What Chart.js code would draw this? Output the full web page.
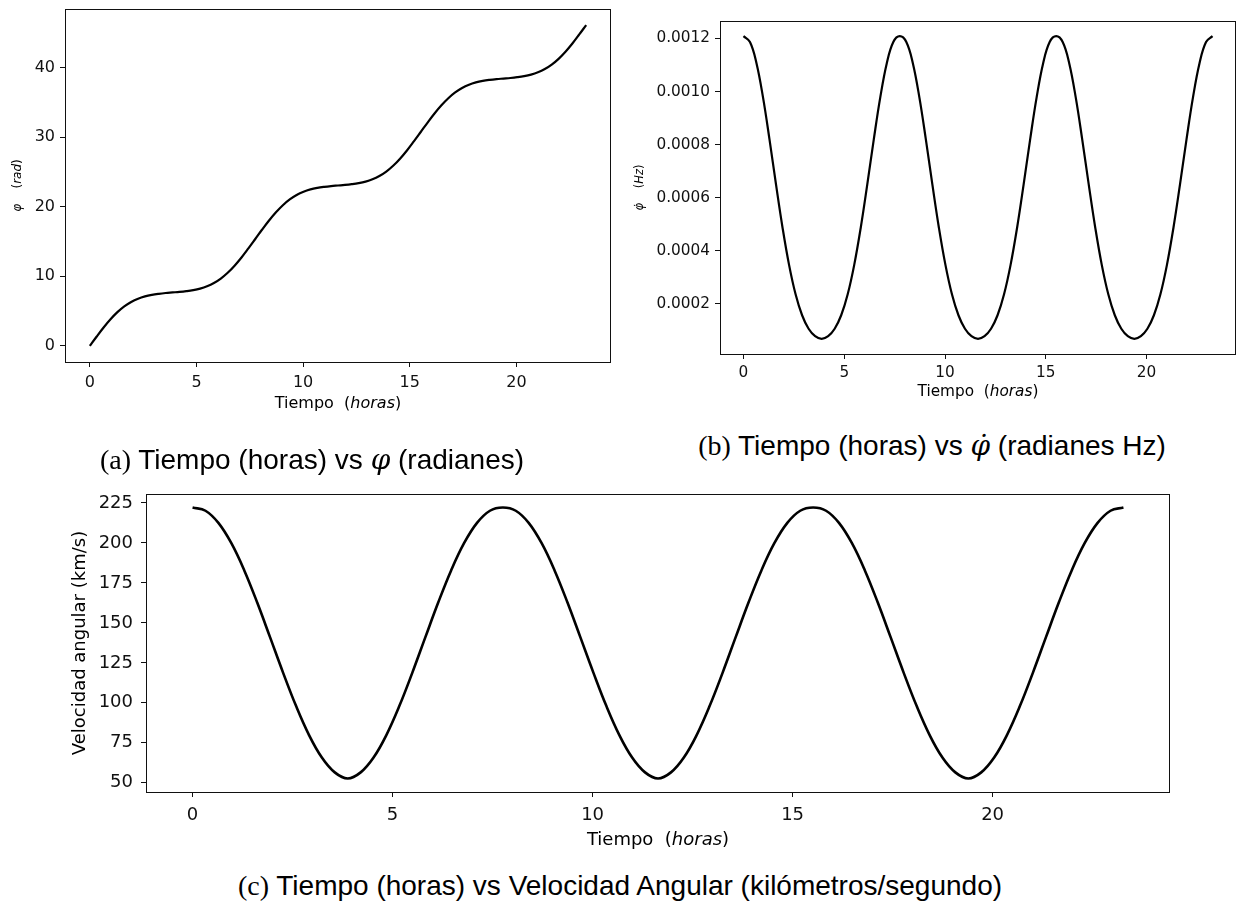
<!DOCTYPE html>
<html>
<head>
<meta charset="utf-8">
<script src="https://cdn.jsdelivr.net/npm/chart.js@4.4.1/dist/chart.umd.min.js"></script>
<style>
  body { margin: 0; background: #fff; }
  #pagina { position: relative; width: 1238px; height: 914px; background: #fff; overflow: hidden; }
  canvas { position: absolute; }
  .pie { position: absolute; transform: translateX(-50%); white-space: nowrap; font-family: "Liberation Sans", sans-serif; font-size: 28px; line-height: 28px; color: #000; }
  .pie .letra { font-family: "Liberation Serif", serif; }
  .pie .mat { font-family: "DejaVu Serif", serif; font-style: italic; }
</style>
</head>
<body>
<div id="pagina">
  <canvas id="graficaA" width="620" height="420" style="left:0;top:0"></canvas>
  <canvas id="graficaB" width="618" height="420" style="left:620px;top:0"></canvas>
  <canvas id="graficaC" width="1238" height="400" style="left:0;top:470px"></canvas>
  <div class="pie" style="left:312px;top:446px"><span class="letra">(a)</span> Tiempo (horas) vs <span class="mat">φ</span> (radianes)</div>
  <div class="pie" style="left:932px;top:432px"><span class="letra">(b)</span> Tiempo (horas) vs <span class="mat">φ̇</span> (radianes Hz)</div>
  <div class="pie" style="left:620px;top:872px"><span class="letra">(c)</span> Tiempo (horas) vs Velocidad Angular (kilómetros/segundo)</div>
</div>
<script>
// tiempo de cada muestra (horas)
const horas = [0, 0.323, 0.646, 0.970, 1.293, 1.616, 1.939, 2.262, 2.586, 2.909, 3.232, 3.555,
  3.879, 4.202, 4.525, 4.848, 5.171, 5.495, 5.818, 6.141, 6.464, 6.787, 7.111, 7.434,
  7.757, 8.080, 8.403, 8.727, 9.050, 9.373, 9.696, 10.020, 10.343, 10.666, 10.989, 11.312,
  11.636, 11.959, 12.282, 12.605, 12.928, 13.252, 13.575, 13.898, 14.221, 14.544, 14.868, 15.191,
  15.514, 15.837, 16.160, 16.484, 16.807, 17.130, 17.453, 17.776, 18.100, 18.423, 18.746, 19.069,
  19.393, 19.716, 20.039, 20.362, 20.685, 21.009, 21.332, 21.655, 21.978, 22.301, 22.625, 22.948,
  23.271];

// angulo acumulado (rad)
const phi = [0, 1.36, 2.65, 3.83, 4.85, 5.68, 6.32, 6.79, 7.12, 7.34, 7.49, 7.60,
  7.68, 7.76, 7.87, 8.02, 8.24, 8.57, 9.04, 9.68, 10.51, 11.53, 12.71, 14.01,
  15.36, 16.72, 18.01, 19.19, 20.21, 21.04, 21.68, 22.15, 22.48, 22.70, 22.85, 22.96,
  23.04, 23.12, 23.23, 23.38, 23.60, 23.93, 24.40, 25.04, 25.87, 26.89, 28.07, 29.37,
  30.72, 32.08, 33.37, 34.55, 35.57, 36.40, 37.04, 37.51, 37.84, 38.06, 38.21, 38.32,
  38.40, 38.48, 38.59, 38.74, 38.96, 39.29, 39.76, 40.40, 41.23, 42.25, 43.43, 44.73,
  46.08];

// velocidad angular (Hz)
const phiPunto = [0.001209, 0.001187, 0.001107, 0.000978, 0.000819, 0.000649, 0.000487, 0.000347, 0.000236, 0.000157, 0.000106, 0.000078,
  0.000068, 0.000078, 0.000106, 0.000157, 0.000236, 0.000347, 0.000487, 0.000649, 0.000819, 0.000978, 0.001107, 0.001187,
  0.001209, 0.001187, 0.001107, 0.000978, 0.000819, 0.000649, 0.000487, 0.000347, 0.000236, 0.000157, 0.000106, 0.000078,
  0.000068, 0.000078, 0.000106, 0.000157, 0.000236, 0.000347, 0.000487, 0.000649, 0.000819, 0.000978, 0.001107, 0.001187,
  0.001209, 0.001187, 0.001107, 0.000978, 0.000819, 0.000649, 0.000487, 0.000347, 0.000236, 0.000157, 0.000106, 0.000078,
  0.000068, 0.000078, 0.000106, 0.000157, 0.000236, 0.000347, 0.000487, 0.000649, 0.000819, 0.000978, 0.001107, 0.001187,
  0.001209];

// velocidad (km/s)
const velocidad = [222.1, 220.1, 212.5, 199.8, 182.8, 162.7, 140.9, 118.9, 98.1, 80.0, 65.8, 56.5,
  52.7, 56.5, 65.8, 80.0, 98.1, 118.9, 140.9, 162.7, 182.8, 199.8, 212.5, 220.1,
  222.1, 220.1, 212.5, 199.8, 182.8, 162.7, 140.9, 118.9, 98.1, 80.0, 65.8, 56.5,
  52.7, 56.5, 65.8, 80.0, 98.1, 118.9, 140.9, 162.7, 182.8, 199.8, 212.5, 220.1,
  222.1, 220.1, 212.5, 199.8, 182.8, 162.7, 140.9, 118.9, 98.1, 80.0, 65.8, 56.5,
  52.7, 56.5, 65.8, 80.0, 98.1, 118.9, 140.9, 162.7, 182.8, 199.8, 212.5, 220.1,
  222.1];

const ticksHoras = [0, 5, 10, 15, 20];
const etiquetasHoras = ['0', '5', '10', '15', '20'];
const ticksPhi = [0, 10, 20, 30, 40];
const etiquetasPhi = ['0', '10', '20', '30', '40'];
const ticksPhiPunto = [0.0002, 0.0004, 0.0006, 0.0008, 0.0010, 0.0012];
const etiquetasPhiPunto = ['0.0002', '0.0004', '0.0006', '0.0008', '0.0010', '0.0012'];
const ticksVelocidad = [50, 75, 100, 125, 150, 175, 200, 225];
const etiquetasVelocidad = ['50', '75', '100', '125', '150', '175', '200', '225'];

const SANS = 'DejaVu Sans';

// escribe un texto con tramos de distinta fuente, centrado en (x, y)
function escribir(ctx, partes, x, y, giro) {
  ctx.save();
  ctx.translate(x, y);
  ctx.rotate(giro);
  ctx.textBaseline = 'middle';
  ctx.textAlign = 'left';
  ctx.fillStyle = '#000';
  let ancho = 0;
  partes.forEach(p => { ctx.font = p[1]; ancho += ctx.measureText(p[0]).width; });
  let cx = -ancho / 2;
  partes.forEach(p => {
    ctx.font = p[1];
    ctx.fillText(p[0], cx, 0);
    cx += ctx.measureText(p[0]).width;
  });
  ctx.restore();
}

// caja alrededor del area y titulos de los ejes
function marco(cfg) {
  return {
    id: 'marco',
    afterDraw(chart) {
      const { ctx, chartArea: a } = chart;
      ctx.save();
      ctx.strokeStyle = '#111';
      ctx.lineWidth = 1;
      ctx.strokeRect(a.left + 0.5, a.top + 0.5, a.right - a.left - 1, a.bottom - a.top);
      ctx.restore();
      escribir(ctx, cfg.tituloX, (a.left + a.right) / 2, a.bottom + cfg.distX, 0);
      escribir(ctx, cfg.tituloY, a.left - cfg.distY, (a.top + a.bottom) / 2, -Math.PI / 2);
    }
  };
}

function eje(min, max, ticks, etiquetas, tam, pad, ajuste) {
  return {
    type: 'linear',
    min: min,
    max: max,
    afterBuildTicks: s => { s.ticks = ticks.map(v => ({ value: v })); },
    afterFit: s => {
      ajuste(s);
      // sin margen extra por las etiquetas de los extremos
      s.paddingTop = 0; s.paddingBottom = 0; s.paddingLeft = 0; s.paddingRight = 0;
    },
    border: { display: false },
    grid: { display: true, drawOnChartArea: false, drawTicks: true, tickLength: 5, tickWidth: 1, tickColor: '#111' },
    ticks: {
      autoSkip: false, maxRotation: 0, padding: pad, color: '#111',
      font: { family: SANS, size: tam },
      callback: (v, i) => etiquetas[i]
    }
  };
}

function crearGrafica(id, o) {
  return new Chart(document.getElementById(id), {
    type: 'line',
    data: {
      datasets: [{
        data: horas.map((h, i) => ({ x: h, y: o.valores[i] })),
        borderColor: '#000',
        borderWidth: o.grosor,
        pointRadius: 0,
        fill: false,
        tension: 0.4
      }]
    },
    options: {
      responsive: false,
      animation: false,
      devicePixelRatio: 1,
      layout: { padding: o.padding },
      plugins: { legend: { display: false }, tooltip: { enabled: false } },
      scales: {
        x: eje(-1.164, 24.435, ticksHoras, etiquetasHoras, o.tam, o.padX, s => { s.height = o.altoX; }),
        y: eje(o.minY, o.maxY, o.ticksY, o.etiquetasY, o.tam, o.padY, s => { s.width = o.anchoY; })
      }
    },
    plugins: [marco(o)]
  });
}

// (a) angulo frente al tiempo
crearGrafica('graficaA', {
  valores: phi, grosor: 2.2, tam: 16,
  minY: -2.304, maxY: 48.384, ticksY: ticksPhi, etiquetasY: etiquetasPhi,
  padding: { left: 0, top: 9, right: 9, bottom: 0 },
  anchoY: 65, altoX: 58, padX: 6, padY: 5,
  tituloX: [['Tiempo  (', '16px ' + SANS], ['horas', 'italic 16px ' + SANS], [')', '16px ' + SANS]],
  distX: 42,
  tituloY: [['φ', 'italic 12px ' + SANS], ['    (', '12px ' + SANS], ['rad', 'italic 12px ' + SANS], [')', '12px ' + SANS]],
  distY: 47
});

// (b) derivada del angulo
crearGrafica('graficaB', {
  valores: phiPunto, grosor: 2.2, tam: 15.3,
  minY: 0.000011, maxY: 0.001266, ticksY: ticksPhiPunto, etiquetasY: etiquetasPhiPunto,
  padding: { left: 0, top: 21, right: 2, bottom: 0 },
  anchoY: 100, altoX: 66, padX: 5, padY: 5,
  tituloX: [['Tiempo  (', '15.3px ' + SANS], ['horas', 'italic 15.3px ' + SANS], [')', '15.3px ' + SANS]],
  distX: 38,
  tituloY: [['φ\u0307', 'italic 11.5px ' + SANS], ['    (', '11.5px ' + SANS], ['Hz', 'italic 11.5px ' + SANS], [')', '11.5px ' + SANS]],
  distY: 80
});

// (c) velocidad frente al tiempo
crearGrafica('graficaC', {
  valores: velocidad, grosor: 2.6, tam: 18,
  minY: 44.23, maxY: 230.57, ticksY: ticksVelocidad, etiquetasY: etiquetasVelocidad,
  padding: { left: 0, top: 24, right: 68, bottom: 0 },
  anchoY: 146, altoX: 78, padX: 8, padY: 8,
  tituloX: [['Tiempo  (', '18px ' + SANS], ['horas', 'italic 18px ' + SANS], [')', '18px ' + SANS]],
  distX: 48,
  tituloY: [['Velocidad angular (km/s)', '18px ' + SANS]],
  distY: 66
});
</script>
</body>
</html>
